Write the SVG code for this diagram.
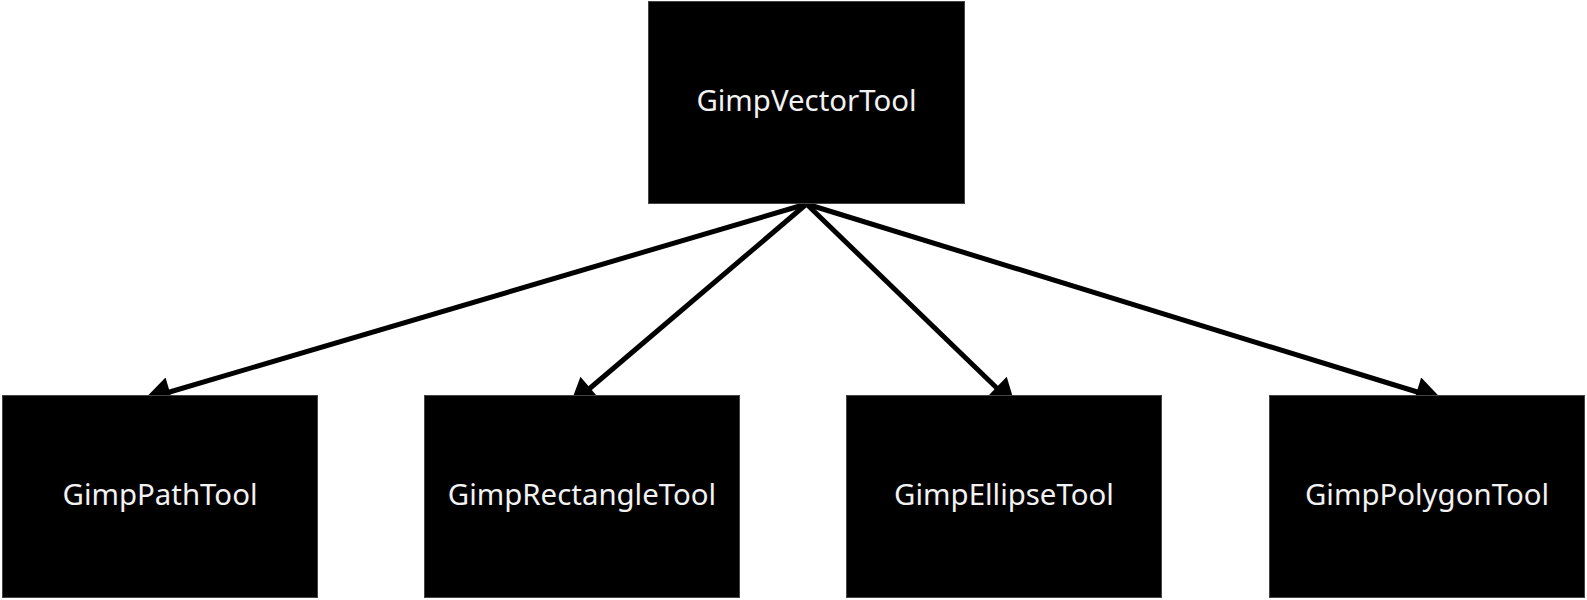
<svg xmlns="http://www.w3.org/2000/svg" width="1587" height="600" viewBox="0 0 1587 600">
<style>
.box{fill:#000;stroke:#444;stroke-width:1}
.lbl{fill:#f2f2f2;font-family:"Noto Sans","Open Sans",sans-serif;font-size:29.4px;text-anchor:middle}
.edge{stroke:#000;stroke-width:5;fill:none}
</style>
<defs>
<marker id="arr" markerUnits="userSpaceOnUse" markerWidth="30" markerHeight="30" viewBox="0 -14 25 28" refX="10" refY="0" orient="auto">
<path d="M0,-14 L25,0 L0,14 Z" fill="#000"/>
</marker>
</defs>
<g id="connectors">
<line class="edge" x1="806.5" y1="204" x2="159.5" y2="395" marker-end="url(#arr)"/>
<line class="edge" x1="806.5" y1="204" x2="582" y2="395" marker-end="url(#arr)"/>
<line class="edge" x1="806.5" y1="204" x2="1004" y2="395" marker-end="url(#arr)"/>
<line class="edge" x1="806.5" y1="204" x2="1427" y2="395" marker-end="url(#arr)"/>
</g>
<g id="GimpVectorTool">
<rect class="box" x="648.5" y="1.5" width="316" height="202"/>
<text class="lbl" x="806.5" y="110.5">GimpVectorTool</text>
</g>
<g id="GimpPathTool">
<rect class="box" x="2.5" y="395.5" width="315" height="202"/>
<text class="lbl" x="160" y="504.5">GimpPathTool</text>
</g>
<g id="GimpRectangleTool">
<rect class="box" x="424.5" y="395.5" width="315" height="202"/>
<text class="lbl" x="582" y="504.5">GimpRectangleTool</text>
</g>
<g id="GimpEllipseTool">
<rect class="box" x="846.5" y="395.5" width="315" height="202"/>
<text class="lbl" x="1004" y="504.5">GimpEllipseTool</text>
</g>
<g id="GimpPolygonTool">
<rect class="box" x="1269.5" y="395.5" width="315" height="202"/>
<text class="lbl" x="1427" y="504.5">GimpPolygonTool</text>
</g>
</svg>
